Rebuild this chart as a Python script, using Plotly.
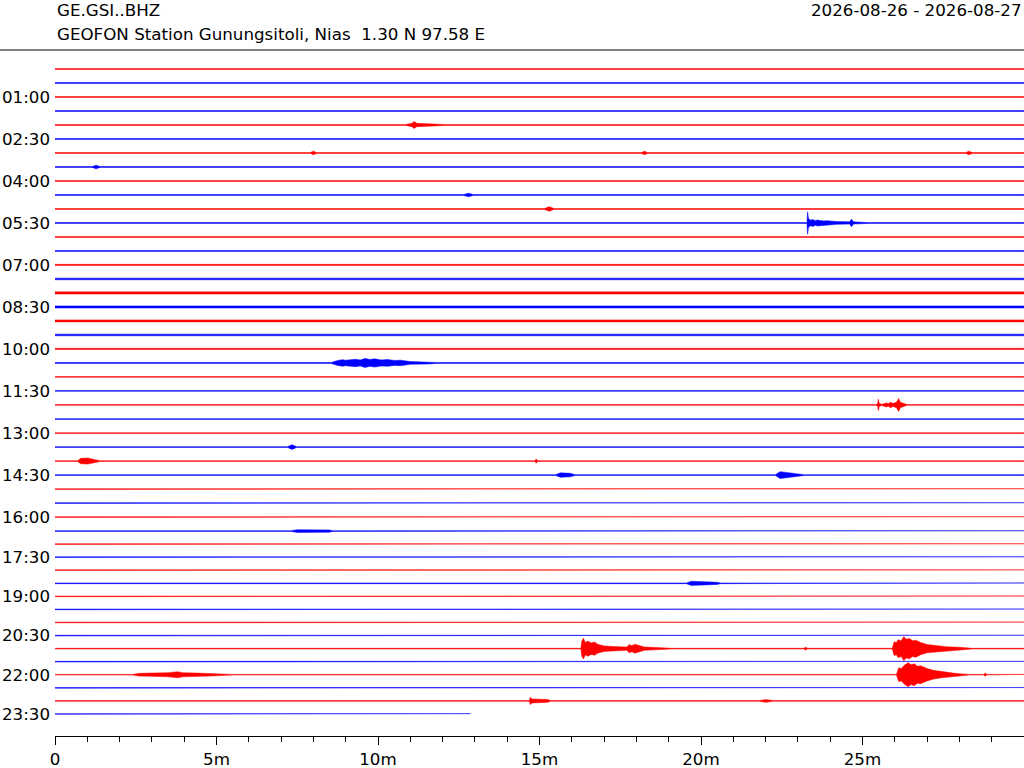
import plotly.graph_objects as go

# 台站信息
station = 'GE.GSI..BHZ'
station_desc = 'GEOFON Station Gunungsitoli, Nias  1.30 N 97.58 E'
date_span = '2026-08-26 - 2026-08-27'

# 每行 30 分钟, 共 48 行; 最后一行只到 12.86 分钟
n_lines = 48
last_line_end = 12.86

# 各行平均电平的漂移 (单位: 行间距)
level = [0.00, 0.02, 0.04, 0.06, 0.08, 0.10, 0.12, 0.14, 0.16, 0.18,
         0.20, 0.22, 0.24, 0.26, 0.28, 0.30, 0.32, 0.34, 0.36, 0.38,
         0.40, 0.42, 0.44, 0.46, 0.48, 0.51, 0.53, 0.55, 0.57, 0.59,
         0.61, 0.63, 0.65, 0.67, 0.62, 0.57, 0.52, 0.48, 0.43, 0.38,
         0.33, 0.29, 0.24, 0.19, 0.14, 0.10, 0.05, 0.00]

# 背景噪声半振幅 (单位: 行间距)
noise = [0.03, 0.035, 0.03, 0.03, 0.03, 0.03, 0.03, 0.03, 0.03, 0.03,
         0.03, 0.03, 0.03, 0.03, 0.045, 0.06, 0.08, 0.075, 0.075, 0.06,
         0.045, 0.035, 0.03, 0.03, 0.03, 0.03, 0.03, 0.03, 0.03, 0.03,
         0.025, 0.025, 0.025, 0.025, 0.025, 0.025, 0.025, 0.025, 0.025, 0.025,
         0.025, 0.025, 0.025, 0.025, 0.025, 0.025, 0.025, 0.025]

# 事件包络: (行号, [(分钟, 半振幅), ...])
events = [
    (4, [(10.85, 0.03), (11.05, 0.12), (11.12, 0.26), (11.2, 0.12), (11.4, 0.1), (11.6, 0.08), (12.1, 0.03)]),
    (6, [(7.9, 0.03), (8.0, 0.13), (8.1, 0.03), (18.15, 0.03), (18.25, 0.12), (18.35, 0.03),
         (28.2, 0.03), (28.29, 0.13), (28.4, 0.03)]),
    (7, [(1.15, 0.03), (1.27, 0.13), (1.4, 0.03)]),
    (9, [(12.65, 0.03), (12.8, 0.13), (12.95, 0.03)]),
    (10, [(15.15, 0.03), (15.3, 0.17), (15.45, 0.03)]),
    (11, [(23.28, 0.03), (23.30, 0.82), (23.33, 0.3), (23.4, 0.2), (23.45, 0.26), (23.55, 0.17),
          (23.6, 0.22), (23.8, 0.14), (23.9, 0.17), (24.2, 0.1), (24.6, 0.08), (24.66, 0.28),
          (24.72, 0.08), (25.0, 0.05), (25.2, 0.03)]),
    (21, [(8.55, 0.035), (8.75, 0.18), (8.9, 0.24), (9.0, 0.2), (9.3, 0.27), (9.45, 0.22),
          (9.6, 0.33), (9.75, 0.25), (9.9, 0.3), (10.1, 0.22), (10.3, 0.25), (10.5, 0.18),
          (10.7, 0.2), (11.0, 0.1), (11.6, 0.07), (11.8, 0.035)]),
    (24, [(25.42, 0.03), (25.47, 0.1), (25.49, 0.42), (25.52, 0.1), (25.6, 0.05), (25.75, 0.15),
          (25.8, 0.08), (25.85, 0.2), (25.95, 0.12), (26.05, 0.2), (26.12, 0.47), (26.17, 0.2),
          (26.28, 0.12), (26.38, 0.03)]),
    (27, [(7.2, 0.03), (7.34, 0.17), (7.48, 0.03)]),
    (28, [(0.7, 0.03), (0.8, 0.2), (1.02, 0.22), (1.24, 0.1), (1.4, 0.03),
          (14.85, 0.03), (14.9, 0.15), (14.95, 0.03)]),
    (29, [(15.5, 0.03), (15.65, 0.16), (15.95, 0.13), (16.1, 0.03),
          (22.3, 0.03), (22.45, 0.25), (22.7, 0.18), (23.05, 0.09), (23.2, 0.03)]),
    (33, [(7.3, 0.025), (7.5, 0.1), (8.0, 0.1), (8.5, 0.08), (8.6, 0.025)]),
    (37, [(10.15, 0.025), (10.3, 0.07), (10.6, 0.025), (19.55, 0.025), (19.7, 0.15),
          (20.1, 0.12), (20.5, 0.08), (20.6, 0.025)]),
    (42, [(16.28, 0.025), (16.31, 0.55), (16.36, 0.76), (16.42, 0.45), (16.5, 0.55), (16.6, 0.42),
          (16.7, 0.48), (16.8, 0.33), (17.0, 0.2), (17.3, 0.15), (17.7, 0.12), (17.78, 0.3),
          (17.86, 0.22), (17.95, 0.33), (18.1, 0.22), (18.25, 0.12), (18.6, 0.09), (19.1, 0.025),
          (23.18, 0.025), (23.24, 0.1), (23.3, 0.025),
          (25.92, 0.025), (25.98, 0.5), (26.05, 0.45), (26.1, 0.65), (26.2, 0.58), (26.28, 0.88),
          (26.35, 0.68), (26.45, 0.74), (26.55, 0.58), (26.65, 0.62), (26.8, 0.45), (27.0, 0.3),
          (27.3, 0.2), (27.6, 0.14), (28.0, 0.1), (28.4, 0.025)]),
    (44, [(2.4, 0.025), (2.6, 0.1), (3.0, 0.12), (3.5, 0.15), (3.8, 0.22), (3.95, 0.15),
          (4.4, 0.12), (4.8, 0.1), (5.5, 0.025), (26.05, 0.025), (26.12, 0.5), (26.2, 0.45),
          (26.3, 0.7), (26.42, 0.88), (26.5, 0.72), (26.6, 0.8), (26.7, 0.62), (26.8, 0.65),
          (27.0, 0.45), (27.2, 0.32), (27.45, 0.22), (27.8, 0.12), (28.0, 0.08), (28.3, 0.025),
          (28.75, 0.025), (28.8, 0.12), (28.85, 0.025)]),
    (46, [(14.68, 0.025), (14.72, 0.27), (14.76, 0.15), (15.0, 0.13), (15.25, 0.1), (15.35, 0.025),
          (21.8, 0.025), (22.0, 0.1), (22.25, 0.025)]),
]

# 坐标轴刻度
y_tick_lines = [2, 5, 8, 11, 14, 17, 20, 23, 26, 29, 32, 35, 38, 41, 44, 47]
y_tick_labels = ['01:00', '02:30', '04:00', '05:30', '07:00', '08:30', '10:00', '11:30',
                 '13:00', '14:30', '16:00', '17:30', '19:00', '20:30', '22:00', '23:30']
x_tick_vals = [0, 5, 10, 15, 20, 25]
x_tick_labels = ['0', '5m', '10m', '15m', '20m', '25m']

FONT = 'DejaVu Sans'
FS = 16.7

event_map = {line: pts for line, pts in events}

fig = go.Figure()

for k in range(n_lines):
    color = 'red' if k % 2 == 0 else 'blue'
    end = last_line_end if k == n_lines - 1 else 30
    base = k + level[k]
    pts = [(0, noise[k])] + [p for p in event_map.get(k, []) if p[0] < end] + [(end, noise[k])]
    ts = [p[0] for p in pts]
    amps = [p[1] for p in pts]
    xs = ts + ts[::-1]
    ys = [base - a for a in amps] + [base + a for a in amps[::-1]]
    fig.add_trace(go.Scatter(
        x=xs, y=ys, mode='lines', fill='toself', fillcolor=color,
        line=dict(color=color, width=0.5), hoverinfo='skip', showlegend=False,
    ))

# 顶部文字
fig.add_annotation(text=station, xref='paper', yref='paper', x=0, y=1.0583,
                   xanchor='left', yanchor='middle', showarrow=False,
                   font=dict(family=FONT, size=FS, color='black'))
fig.add_annotation(text=station_desc, xref='paper', yref='paper', x=0, y=1.0233,
                   xanchor='left', yanchor='middle', showarrow=False,
                   font=dict(family=FONT, size=FS, color='black'))
fig.add_annotation(text=date_span, xref='paper', yref='paper', x=1, y=1.0583,
                   xanchor='right', yanchor='middle', showarrow=False,
                   font=dict(family=FONT, size=FS, color='black'))
# 标题下的分隔线
fig.add_shape(type='line', xref='paper', yref='paper', x0=-55 / 969, x1=1, y0=1, y1=1,
              line=dict(color='black', width=1))

fig.update_layout(
    width=1024, height=768, autosize=False,
    margin=dict(l=55, r=0, t=50, b=32, pad=0),
    paper_bgcolor='white', plot_bgcolor='white',
    font=dict(family=FONT, size=FS, color='black'),
    xaxis=dict(
        range=[0, 30], tickvals=x_tick_vals, ticktext=x_tick_labels,
        ticks='outside', ticklen=8, tickcolor='black', tickwidth=1,
        showline=True, linecolor='black', linewidth=1,
        showgrid=False, zeroline=False,
        minor=dict(dtick=1, tick0=0, ticks='outside', ticklen=5, tickcolor='black', tickwidth=1),
        tickfont=dict(family=FONT, size=FS, color='black'),
    ),
    yaxis=dict(
        range=[48.605, -1.3845],
        tickvals=[k + level[k] for k in y_tick_lines], ticktext=y_tick_labels,
        ticks='', showline=False, showgrid=False, zeroline=False,
        ticklabelstandoff=4,
        tickfont=dict(family=FONT, size=FS, color='black'),
    ),
)

# 去掉页面默认边距和工具栏
fig.write_html('out.html', config={'displayModeBar': False},
               post_script="document.body.style.margin='0';document.body.style.overflow='hidden';")
